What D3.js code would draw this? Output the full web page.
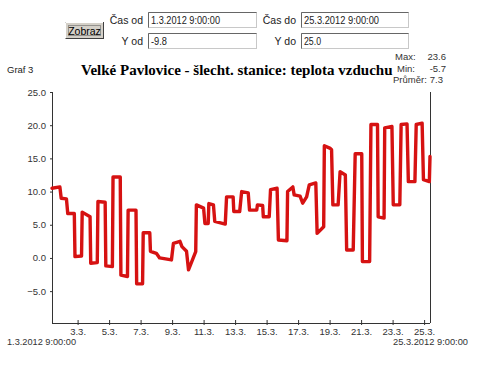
<!DOCTYPE html>
<html><head><meta charset="utf-8">
<script src="https://cdn.jsdelivr.net/npm/d3@7"></script>
<style>
html,body{margin:0;padding:0;background:#fff;}
svg{display:block;}
text{font-family:Arial,"Liberation Sans",sans-serif;}
</style></head>
<body><svg id="c" width="500" height="377"></svg>
<script>
// ---- data ----
const startLabel = "1.3.2012 9:00:00";
const endLabel = "25.3.2012 9:00:00";
const yFrom = -9.8, yTo = 25.0;
const yTicks = [-5, 0, 5, 10, 15, 20, 25];
const stats = [["Max:", "23.6"], ["Min:", "-5.7"], ["Průměr:", "7.3"]];
const title = "Velké Pavlovice - šlecht. stanice: teplota vzduchu";
// hours after 1.3.2012 9:00
const hours = [0,12,14,22,24,34,35,45,46,58,59,69,70,81,82,92,93,104,105,115,116,128,129,138,139,149,150,159,164,182,185,195,198,205,208,219,220,231,233,238,239,246,248,264,266,276,277,286,289,299,301,312,313,321,322,331,333,343,345,358,359,367,369,378,382,388,392,402,404,414,415,424,426,428,436,439,447,449,459,462,472,473,484,486,496,497,506,507,518,520,530,532,541,543,553,555,564,566,575,576];
const temps = [10.5,10.7,9.0,8.9,6.7,6.7,0.2,0.3,6.9,6.2,-0.8,-0.7,8.5,8.4,-1.2,-1.3,12.2,12.2,-2.6,-2.8,7.2,7.2,-3.9,-3.9,3.8,3.8,1.0,0.7,0.0,-0.3,2.2,2.5,1.7,1.0,-1.8,0.95,8.0,7.5,5.2,5.2,8.2,8.0,5.5,5.1,9.2,9.2,7.0,7.0,10.0,9.8,7.2,7.2,8.0,7.9,6.2,6.2,10.3,10.5,2.7,2.6,10.0,10.7,9.5,9.3,8.25,9.2,11.0,11.3,3.7,4.7,16.9,16.5,16.3,8.0,8.0,13.0,12.5,1.2,1.2,15.7,15.7,-0.55,-0.55,20.1,20.1,6.2,6.0,19.6,19.8,8.0,8.0,20.1,20.2,11.5,11.5,20.1,20.3,11.8,11.5,15.3];

const t0 = new Date(2012, 2, 1, 9, 0, 0);
const t1 = new Date(2012, 2, 25, 9, 0, 0);
const data = hours.map((h, i) => ({t: new Date(t0.getTime() + h * 3600000), v: temps[i]}));

const svg = d3.select("#c");
const pLeft = 52, pRight = 430, pTop = 92, pBottom = 323;
const x = d3.scaleTime().domain([t0, t1]).range([pLeft, pRight]);
const y = d3.scaleLinear().domain([yFrom, yTo]).range([pBottom, pTop]);

// ---- form controls ----
const ctl = svg.append("g");
const btn = ctl.append("g");
btn.append("rect").attr("x", 65.5).attr("y", 22.5).attr("width", 38).attr("height", 16).attr("fill", "#d4d0c8").attr("stroke", "#404040");
btn.append("path").attr("d", "M65.5,38.5V22.5H103").attr("fill", "none").attr("stroke", "#fff");
btn.append("rect").attr("x", 68.5).attr("y", 25.5).attr("width", 32).attr("height", 10).attr("fill", "none").attr("stroke", "#555").attr("stroke-dasharray", "1,1");
btn.append("text").attr("x", 84.5).attr("y", 34.5).attr("text-anchor", "middle").attr("font-size", 10.5).attr("fill", "#000").text("Zobraz");

const fields = [
  {label: "Čas od", lx: 143, x: 148, y: 12, w: 108, val: startLabel, tl: 69},
  {label: "Čas do", lx: 296, x: 301, y: 12, w: 107, val: endLabel, tl: 75},
  {label: "Y od", lx: 143, x: 148, y: 33, w: 108, val: yFrom.toFixed(1), tl: 16},
  {label: "Y do", lx: 296, x: 301, y: 33, w: 107, val: yTo.toFixed(1), tl: 17}
];
fields.forEach(f => {
  ctl.append("text").attr("x", f.lx).attr("y", f.y + 12).attr("text-anchor", "end").attr("font-size", 10.5).attr("fill", "#222").text(f.label);
  ctl.append("rect").attr("x", f.x + 0.5).attr("y", f.y + 0.5).attr("width", f.w).attr("height", 15).attr("fill", "#fff").attr("stroke", "#c8c8c8");
  ctl.append("path").attr("d", `M${f.x + 0.5},${f.y + 15.5}V${f.y + 0.5}H${f.x + f.w + 0.5}`).attr("fill", "none").attr("stroke", "#666");
  ctl.append("text").attr("x", f.x + 3).attr("y", f.y + 12).attr("font-size", 10.5).attr("fill", "#222")
    .attr("textLength", f.tl).attr("lengthAdjust", "spacingAndGlyphs").text(f.val);
});

// ---- header texts ----
svg.append("text").attr("x", 7).attr("y", 73).attr("font-size", 9.5).attr("fill", "#222").text("Graf 3");
svg.append("text").attr("x", 81).attr("y", 75).attr("font-size", 15).attr("font-weight", "bold")
  .style("font-family", "'Liberation Serif','Times New Roman',serif").attr("fill", "#000").text(title);
stats.forEach((s, i) => {
  const yy = 60 + i * 11.7;
  const xl = i === 0 ? 395 : (i === 1 ? 397 : 393);
  svg.append("text").attr("x", xl).attr("y", yy).attr("font-size", 9.5).attr("fill", "#333").text(s[0]);
  if (i < 2) svg.append("text").attr("x", 446).attr("y", yy).attr("text-anchor", "end").attr("font-size", 9.5).attr("fill", "#333").text(s[1]);
  else svg.append("text").attr("x", 443).attr("y", yy).attr("text-anchor", "end").attr("font-size", 9.5).attr("fill", "#333").text(s[1]);
});

// ---- axes ----
const yAxis = svg.append("g").attr("transform", `translate(${pLeft},0)`)
  .call(d3.axisLeft(y).tickValues(yTicks).tickFormat(d3.format(".1f")).tickSizeInner(3).tickSizeOuter(0).tickPadding(3));
yAxis.select(".domain").attr("d", `M0.5,${pTop}V${pBottom}`).attr("stroke", "#333");
yAxis.selectAll(".tick line").attr("x2", -2).attr("x1", 1).attr("stroke", "#333");
yAxis.selectAll(".tick text").attr("font-size", 9.5).attr("fill", "#333").style("font-family", "Arial,'Liberation Sans',sans-serif");

const xAxis = svg.append("g").attr("transform", `translate(0,${pBottom})`)
  .call(d3.axisBottom(x).ticks(d3.timeDay.every(2)).tickFormat(d3.timeFormat("%-d.%-m.")).tickSizeInner(3).tickSizeOuter(0).tickPadding(2));
xAxis.select(".domain").attr("d", `M${pLeft},0.5H${pRight}`).attr("stroke", "#333");
xAxis.selectAll(".tick line").attr("y1", -3).attr("y2", 2).attr("stroke", "#333");
xAxis.selectAll(".tick text").attr("font-size", 9.5).attr("fill", "#333").style("font-family", "Arial,'Liberation Sans',sans-serif");

svg.append("line").attr("x1", pRight + 0.5).attr("x2", pRight + 0.5).attr("y1", pTop).attr("y2", pBottom).attr("stroke", "#333");

svg.append("text").attr("x", 7).attr("y", 345).attr("font-size", 9.5).attr("fill", "#333")
  .attr("textLength", 69).attr("lengthAdjust", "spacingAndGlyphs").text(startLabel);
svg.append("text").attr("x", 393).attr("y", 345).attr("font-size", 9.5).attr("fill", "#333")
  .attr("textLength", 75).attr("lengthAdjust", "spacingAndGlyphs").text(endLabel);

// ---- series ----
svg.append("path").datum(data)
  .attr("d", d3.line().x(d => x(d.t)).y(d => y(d.v)))
  .attr("fill", "none").attr("stroke", "#d61212").attr("stroke-width", 3.4)
  .attr("stroke-linejoin", "round").attr("stroke-linecap", "round");
</script></body></html>
